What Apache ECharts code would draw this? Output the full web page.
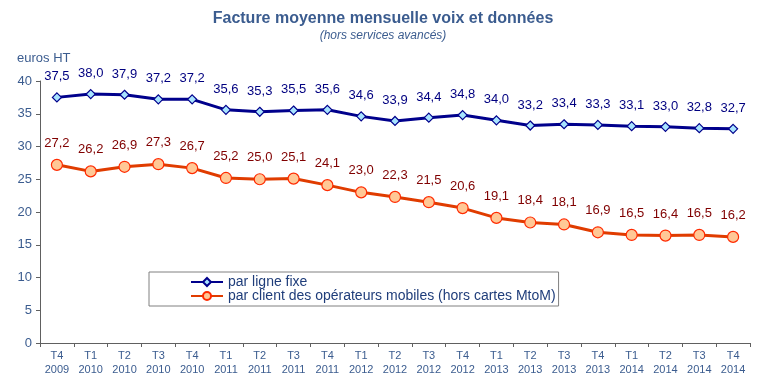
<!DOCTYPE html>
<html><head><meta charset="utf-8">
<script src="https://cdn.jsdelivr.net/npm/echarts@6/dist/echarts.min.js"></script>
<style>html,body{margin:0;padding:0;background:#fff}#c{width:766px;height:384px}</style>
</head><body><div id="c"></div>
<script>
var categories = ['T4\n2009','T1\n2010','T2\n2010','T3\n2010','T4\n2010','T1\n2011','T2\n2011','T3\n2011','T4\n2011','T1\n2012','T2\n2012','T3\n2012','T4\n2012','T1\n2013','T2\n2013','T3\n2013','T4\n2013','T1\n2014','T2\n2014','T3\n2014','T4\n2014'];
var fixe = [37.5,38.0,37.9,37.2,37.2,35.6,35.3,35.5,35.6,34.6,33.9,34.4,34.8,34.0,33.2,33.4,33.3,33.1,33.0,32.8,32.7];
var mobile = [27.2,26.2,26.9,27.3,26.7,25.2,25.0,25.1,24.1,23.0,22.3,21.5,20.6,19.1,18.4,18.1,16.9,16.5,16.4,16.5,16.2];
var yTicks = [0,5,10,15,20,25,30,35,40];
var fmt = function(p){ return p.value.toFixed(1).replace('.', ','); };
var chart = echarts.init(document.getElementById('c'));
chart.setOption({
  animation: false,
  textStyle: {fontFamily: 'Liberation Sans, Arial, sans-serif'},
  title: [
    {text: 'Facture moyenne mensuelle voix et données', left: 'center', top: 6,
     textStyle: {fontSize: 16, fontWeight: 'bold', color: '#3B5C8F'}},
    {text: '(hors services avancés)', left: 'center', top: 25,
     textStyle: {fontSize: 12, fontStyle: 'italic', fontWeight: 'normal', color: '#3B5C8F'}},
    {text: 'euros HT', left: 12, top: 47,
     textStyle: {fontSize: 13, fontWeight: 'normal', color: '#3B5C8F'}}
  ],
  legend: {
    left: 149, top: 272, orient: 'vertical',
    backgroundColor: '#fff', borderColor: '#808080', borderWidth: 1,
    padding: [3, 3, 3, 41], itemGap: 0, itemWidth: 32, itemHeight: 10,
    textStyle: {fontSize: 14, color: '#1F3D7A', lineHeight: 13},
    data: ['par ligne fixe', 'par client des opérateurs mobiles (hors cartes MtoM)']
  },
  grid: {left: 40, right: 16, top: 81, bottom: 41},
  xAxis: {
    type: 'category', data: categories, boundaryGap: true,
    axisLine: {lineStyle: {color: '#606060', width: 1}},
    axisTick: {show: true, length: 4, lineStyle: {color: '#606060'}},
    axisLabel: {fontSize: 11, color: '#3B5C8F', lineHeight: 14, margin: 6}
  },
  yAxis: {
    type: 'value', min: 0, max: 40, interval: 5,
    axisLine: {show: true, lineStyle: {color: '#606060'}},
    axisTick: {show: true, length: 4, lineStyle: {color: '#606060'}},
    splitLine: {show: false},
    axisLabel: {fontSize: 13, color: '#3B5C8F', margin: 8,
      formatter: function(v){ return yTicks.indexOf(v) >= 0 ? String(v) : ''; }}
  },
  series: [
    {name: 'par ligne fixe', type: 'line', data: fixe,
     symbol: 'diamond', symbolSize: 9,
     lineStyle: {color: '#00008C', width: 3},
     itemStyle: {color: '#A8E4FF', borderColor: '#00008C', borderWidth: 1.2},
     label: {show: true, position: 'top', distance: 9, fontSize: 13, color: '#000080', formatter: fmt}},
    {name: 'par client des opérateurs mobiles (hors cartes MtoM)', type: 'line', data: mobile,
     symbol: 'circle', symbolSize: 11,
     lineStyle: {color: '#E03C00', width: 3},
     itemStyle: {color: '#FFC896', borderColor: '#FF2A00', borderWidth: 1.2},
     label: {show: true, position: 'top', distance: 9, fontSize: 13, color: '#800000', formatter: fmt}}
  ]
});
</script></body></html>
